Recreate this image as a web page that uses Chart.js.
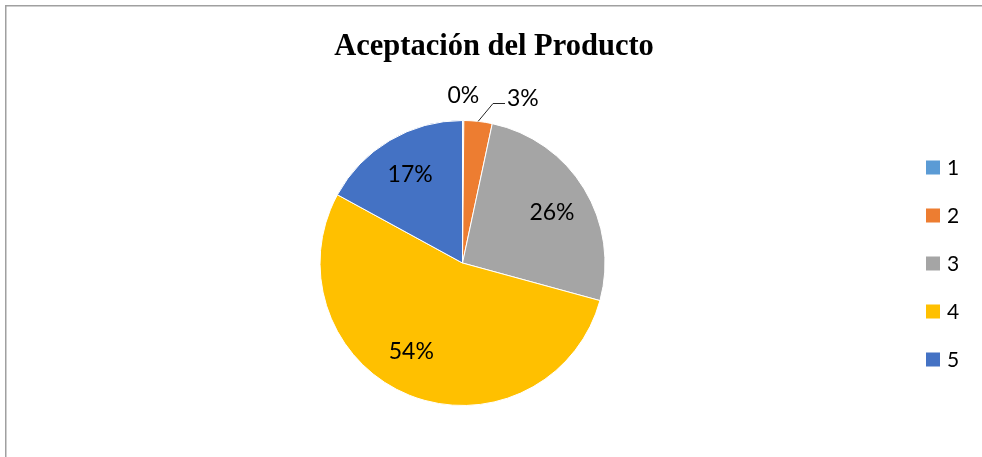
<!DOCTYPE html>
<html>
<head>
<meta charset="utf-8">
<script src="https://cdn.jsdelivr.net/npm/chart.js@4/dist/chart.umd.min.js"></script>
<style>
  html, body { margin: 0; padding: 0; background: #fff; overflow: hidden; }
  #wrap { width: 982px; height: 457px; position: relative; }
  canvas { display: block; }
</style>
</head>
<body>
<div id="wrap"><canvas id="c" width="982" height="457"></canvas></div>
<script>
const chartTitle = 'Aceptación del Producto';
const categories = ['1', '2', '3', '4', '5'];
const values = [0.15, 3.2, 25.9, 53.7, 17.05];
const sliceColors = ['#5B9BD5', '#ED7D31', '#A5A5A5', '#FFC000', '#4472C4'];

const total = values.reduce((a, b) => a + b, 0);
const pctLabels = values.map(v => Math.round(v / total * 100) + '%');

// label angle nudges (degrees) mimicking Excel "best fit" placement
const labelAngleNudge = [0, 0, 2, 8, 0];

const decorPlugin = {
  id: 'decor',
  afterDraw(chart) {
    const ctx = chart.ctx;
    const meta = chart.getDatasetMeta(0);
    ctx.save();

    // frame border (top and left only)
    ctx.fillStyle = '#a0a0a0';
    ctx.fillRect(5, 5, 977, 1.5);
    ctx.fillRect(5, 5, 1.5, 452);

    // title
    ctx.fillStyle = '#000';
    ctx.font = 'bold 30.5px "Liberation Serif", "Times New Roman", serif';
    ctx.textAlign = 'center';
    ctx.textBaseline = 'alphabetic';
    ctx.fillText(chartTitle, 494, 55);

    // data labels
    ctx.font = '23px Lato, "Open Sans", sans-serif';
    ctx.fillStyle = '#000';
    meta.data.forEach((arc, i) => {
      const r = arc.outerRadius;
      const cx = arc.x, cy = arc.y;
      const mid = (arc.startAngle + arc.endAngle) / 2;
      const frac = values[i] / total;
      if (frac >= 0.05) {
        const a = mid + labelAngleNudge[i] * Math.PI / 180;
        const d = r * 0.72;
        ctx.textAlign = 'center';
        ctx.textBaseline = 'middle';
        ctx.fillText(pctLabels[i], cx + d * Math.cos(a), cy + d * Math.sin(a));
      } else if (i === 0) {
        const d = r + 25;
        ctx.textAlign = 'center';
        ctx.textBaseline = 'middle';
        ctx.fillText(pctLabels[i], cx + d * Math.cos(mid), cy + d * Math.sin(mid));
      } else {
        // leader line label
        const sx = cx + r * Math.cos(mid), sy = cy + r * Math.sin(mid);
        const ex = cx + 30.5, ey = cy - (r + 17);
        ctx.strokeStyle = '#262626';
        ctx.lineWidth = 1;
        ctx.beginPath();
        ctx.moveTo(sx, sy);
        ctx.lineTo(ex, ey);
        ctx.lineTo(ex + 12, ey);
        ctx.stroke();
        ctx.textAlign = 'left';
        ctx.textBaseline = 'middle';
        ctx.fillText(pctLabels[i], ex + 14, ey - 5);
      }
    });

    // legend
    ctx.font = '21px Lato, "Open Sans", sans-serif';
    ctx.textAlign = 'left';
    ctx.textBaseline = 'middle';
    categories.forEach((c, i) => {
      const y = 167.5 + i * 48;
      ctx.fillStyle = sliceColors[i];
      ctx.fillRect(926, y - 7, 14, 14);
      ctx.fillStyle = '#000';
      ctx.fillText(c, 947, y + 1);
    });
    ctx.restore();
  }
};

new Chart(document.getElementById('c'), {
  type: 'pie',
  data: {
    labels: categories,
    datasets: [{
      data: values,
      backgroundColor: sliceColors,
      borderColor: '#ffffff',
      borderWidth: 1
    }]
  },
  options: {
    responsive: false,
    animation: false,
    layout: { padding: { left: 319, right: 376, top: 120, bottom: 51 } },
    plugins: {
      legend: { display: false },
      title: { display: false },
      tooltip: { enabled: false }
    }
  },
  plugins: [decorPlugin]
});
</script>
</body>
</html>
